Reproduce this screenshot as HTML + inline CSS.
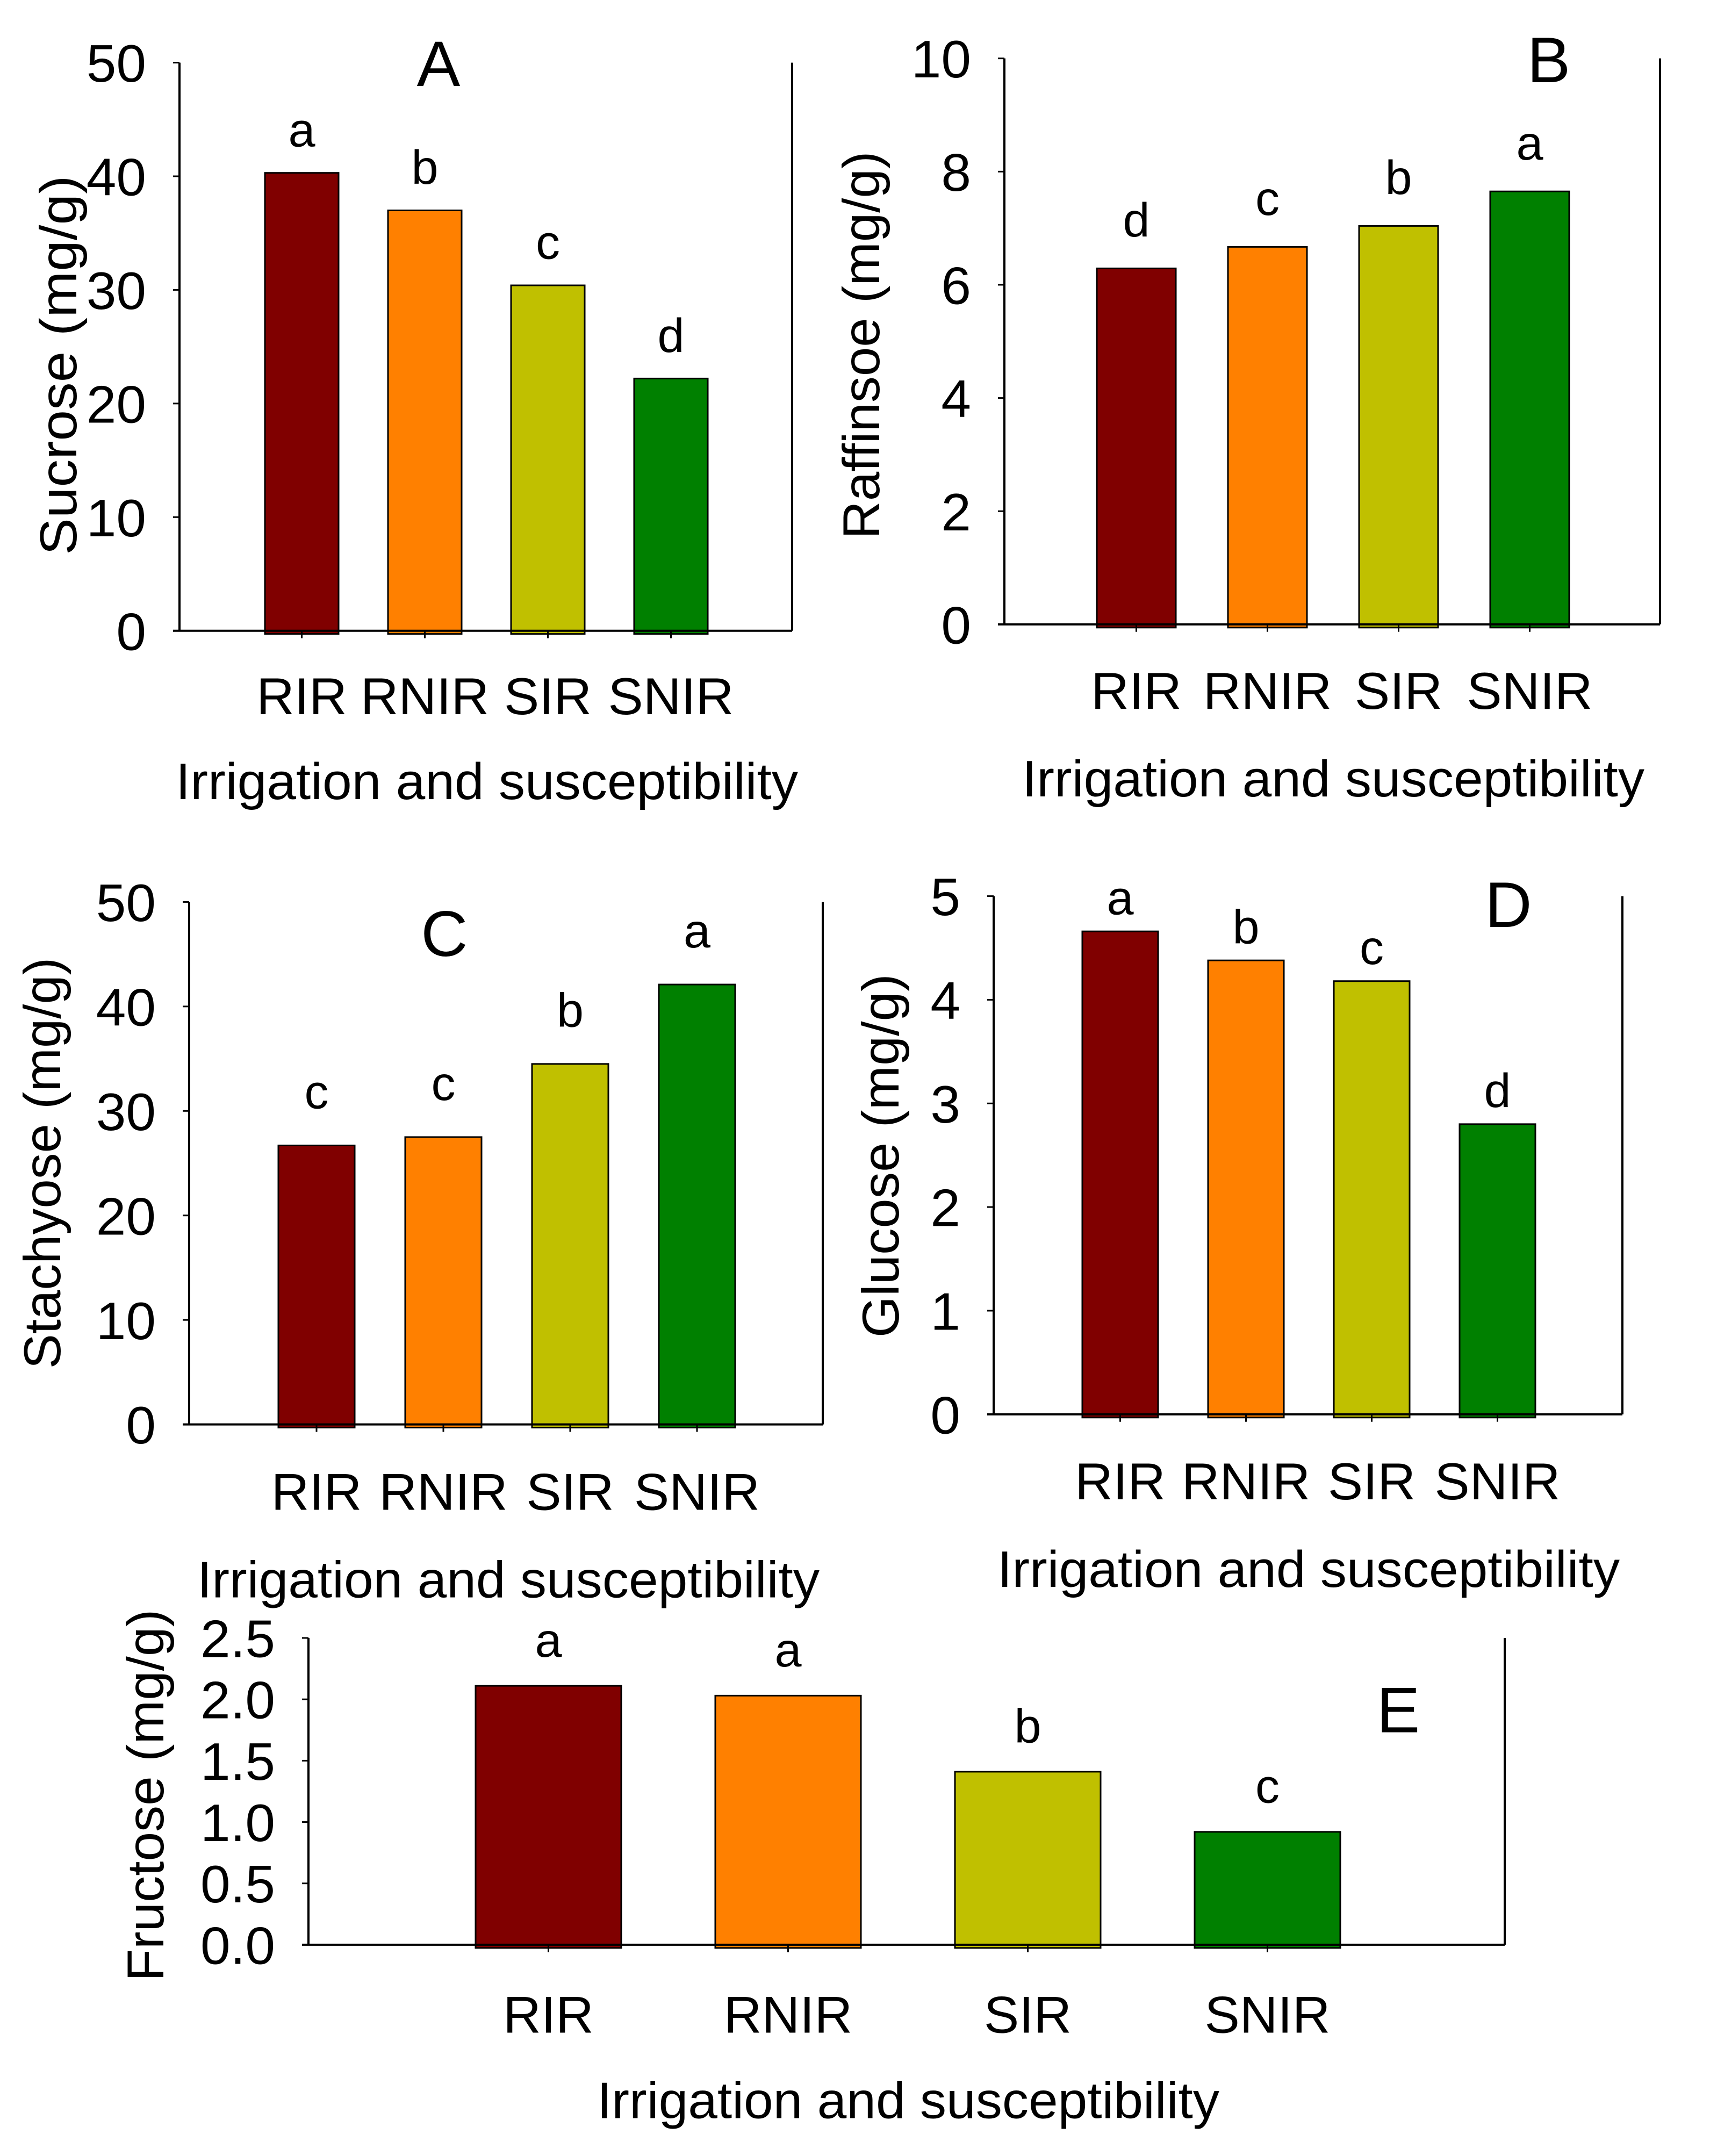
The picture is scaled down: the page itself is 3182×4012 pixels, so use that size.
<!DOCTYPE html>
<html><head><meta charset="utf-8"><style>
html,body{margin:0;padding:0;background:#fff}
svg{display:block}
text{font-family:"Liberation Sans",Arial,sans-serif;fill:#000}
</style></head><body>
<svg id="fig" width="3182" height="4012" viewBox="0 0 3182 4012" xmlns="http://www.w3.org/2000/svg"></svg>
<script>
const categories = ["RIR","RNIR","SIR","SNIR"];
const barColors = ["#800000","#FF8000","#C0C000","#008000"];
const sucroseValues = [40.3, 37.0, 30.4, 22.2];
const sucroseLetters = ["a","b","c","d"];
const sucroseTicks = [0,10,20,30,40,50];
const sucroseTickLabels = ["0","10","20","30","40","50"];
const raffinoseValues = [6.29, 6.67, 7.04, 7.65];
const raffinoseLetters = ["d","c","b","a"];
const raffinoseTicks = [0,2,4,6,8,10];
const raffinoseTickLabels = ["0","2","4","6","8","10"];
const stachyoseValues = [26.7, 27.5, 34.5, 42.1];
const stachyoseLetters = ["c","c","b","a"];
const stachyoseTicks = [0,10,20,30,40,50];
const stachyoseTickLabels = ["0","10","20","30","40","50"];
const glucoseValues = [4.66, 4.38, 4.18, 2.80];
const glucoseLetters = ["a","b","c","d"];
const glucoseTicks = [0,1,2,3,4,5];
const glucoseTickLabels = ["0","1","2","3","4","5"];
const fructoseValues = [2.11, 2.03, 1.41, 0.92];
const fructoseLetters = ["a","a","b","c"];
const fructoseTicks = [0,0.5,1.0,1.5,2.0,2.5];
const fructoseTickLabels = ["0.0","0.5","1.0","1.5","2.0","2.5"];

const NS = "http://www.w3.org/2000/svg";
const svg = document.getElementById("fig");
function mk(tag, attrs, parent, txt){
  const e = document.createElementNS(NS, tag);
  for (const k in attrs) e.setAttribute(k, attrs[k]);
  if (txt !== undefined) e.textContent = txt;
  parent.appendChild(e);
  return e;
}

const panels = [
 {id:"a", label:"A", title:"Sucrose (mg/g)", values:sucroseValues, letters:sucroseLetters, ticks:sucroseTicks, tickLabels:sucroseTickLabels,
  left:334, right:1474, top:118, bottom:1188, max:50, bar0:493, barW:137, barStep:229, cy:0, k:0.988,
  labelX:816, labelY:162, titleX:107, titleY:688, titleLen:715, catY:1345, xlY:1505, xlX:906, letterGap:50},
 {id:"b", label:"B", title:"Raffinsoe (mg/g)", values:raffinoseValues, letters:raffinoseLetters, ticks:raffinoseTicks, tickLabels:raffinoseTickLabels,
  left:1869, right:3089, top:110, bottom:1176, max:10, bar0:2041, barW:147, barStep:244, cy:0, k:0.988,
  labelX:2882, labelY:155, titleX:1601, titleY:650, titleLen:730, catY:1335, xlY:1500, xlX:2481, letterGap:60},
 {id:"c", label:"C", title:"Stachyose (mg/g)", values:stachyoseValues, letters:stachyoseLetters, ticks:stachyoseTicks, tickLabels:stachyoseTickLabels,
  left:352, right:1531, top:1680, bottom:2664, max:50, bar0:518, barW:142, barStep:236, cy:1550, k:0.988,
  labelX:827, labelY:1782, titleX:77, titleY:2172, titleLen:775, catY:2825, xlY:2990, xlX:946, letterGap:70},
 {id:"d", label:"D", title:"Glucose (mg/g)", values:glucoseValues, letters:glucoseLetters, ticks:glucoseTicks, tickLabels:glucoseTickLabels,
  left:1849, right:3019, top:1669, bottom:2645, max:5, bar0:2014, barW:141, barStep:234, cy:1550, k:0.988,
  labelX:2807, labelY:1727, titleX:1637, titleY:2158, titleLen:685, catY:2805, xlY:2970, xlX:2435, letterGap:32},
 {id:"e", label:"E", title:"Fructose (mg/g)", values:fructoseValues, letters:fructoseLetters, ticks:fructoseTicks, tickLabels:fructoseTickLabels,
  left:574, right:2800, top:3048, bottom:3627, max:2.5, bar0:885, barW:271, barStep:446, cy:3048, k:0.986,
  labelX:2602, labelY:3226, titleX:269, titleY:3345, titleLen:702, catY:3793, xlY:3954, xlX:1690, letterGap:55}
];

panels.forEach(p => {
  const g = mk("g", {transform:`translate(0,${p.cy}) scale(1,${p.k}) translate(0,${-p.cy})`}, svg);
  
  
  const y = v => p.bottom - (v / p.max) * (p.bottom - p.top);

  p.values.forEach((v, i) => {
    const x = p.bar0 + i * p.barStep;
    const r = mk("rect", {x:x, y:y(v), width:p.barW, height:p.bottom - y(v) + 6, fill:barColors[i], stroke:"#000", "stroke-width":3}, g);
    
    
    const t = mk("text", {x:x + p.barW/2, y:y(v) - p.letterGap, "text-anchor":"middle", "font-size":90}, g, p.letters[i]);
    
    
    const tk = mk("line", {x1:x + p.barW/2, x2:x + p.barW/2, y1:p.bottom, y2:p.bottom + 14, stroke:"#000", "stroke-width":3}, g);
    
    
    const c = mk("text", {x:x + p.barW/2, y:p.catY, "text-anchor":"middle", "font-size":98}, g, categories[i]);
    
    
  });

  const ax = mk("path", {d:`M${p.left},${p.top} V${p.bottom} M${p.left-12},${p.bottom} H${p.right} M${p.right},${p.top} V${p.bottom}`, stroke:"#000", "stroke-width":4, fill:"none"}, g);
  
  

  p.ticks.forEach((tv, i) => {
    const l = mk("line", {x1:p.left - 12, x2:p.left, y1:y(tv), y2:y(tv), stroke:"#000", "stroke-width":3}, g);
    
    
    const t = mk("text", {x:p.left - 62, y:y(tv) + 36, "text-anchor":"end", "font-size":100}, g, p.tickLabels[i]);
    
    
  });

  const lb = mk("text", {x:p.labelX, y:p.labelY, "text-anchor":"middle", "font-size":121}, g, p.label);
  
  

  const yt = mk("text", {x:0, y:0, "text-anchor":"middle", "font-size":97, textLength:p.titleLen, lengthAdjust:"spacingAndGlyphs",
    transform:`translate(${p.titleX + 35},${p.titleY}) rotate(-90)`}, g, p.title);
  
  

  const xt = mk("text", {x:p.xlX, y:p.xlY, "text-anchor":"middle", "font-size":97, textLength:1158, lengthAdjust:"spacingAndGlyphs"}, g, "Irrigation and susceptibility");
  
  
});
</script>
</body></html>
